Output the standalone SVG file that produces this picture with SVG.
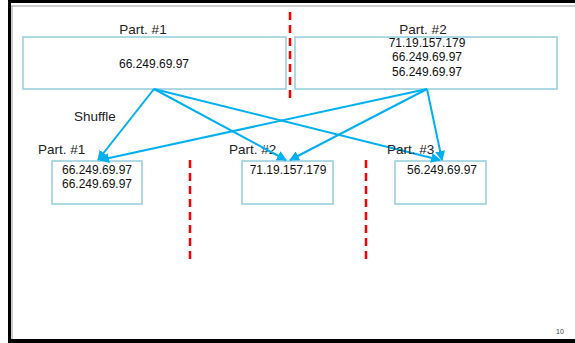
<svg xmlns="http://www.w3.org/2000/svg" width="575" height="343" viewBox="0 0 575 343">
<defs>
<style>
.box{fill:#fff;stroke:#92cddc;stroke-width:1.5}
.lbl{font-family:"Liberation Sans",Arial,sans-serif;font-size:13.5px;fill:#222}
.ip{font-family:"Liberation Sans",Arial,sans-serif;font-size:12px;fill:#111;text-anchor:middle}
.edge{stroke:#00b0f0;stroke-width:2;fill:none;marker-end:url(#ah)}
.sep{stroke:#ff0000;stroke-width:2.5;stroke-dasharray:8 5;fill:none}
</style>
<marker id="ah" viewBox="0 0 10 10" refX="9" refY="5" markerWidth="5" markerHeight="5" orient="auto" markerUnits="strokeWidth">
<path d="M0,0 L10,5 L0,10 z" fill="#00b0f0"/>
</marker>
</defs>
<rect x="0" y="0" width="575" height="343" fill="#fff"/>
<rect x="8" y="0" width="567" height="3" fill="#000"/>
<line x1="11" y1="6" x2="575" y2="6" stroke="#bbb" stroke-width="1.5"/>
<rect x="8" y="0" width="3" height="343" fill="#000"/>
<line x1="12" y1="6" x2="12" y2="340" stroke="#999" stroke-width="1"/>
<rect x="8" y="339" width="567" height="4" fill="#000"/>

<g id="separators">
<line class="sep" x1="290" y1="12" x2="290" y2="99"/>
<line class="sep" x1="190" y1="160" x2="190" y2="262"/>
<line class="sep" x1="366" y1="160" x2="366" y2="262"/>
</g>

<g id="top1">
<text class="lbl" x="143" y="34" text-anchor="middle">Part. #1</text>
<rect class="box" x="23" y="37" width="263" height="52"/>
<text class="ip" x="154" y="68">66.249.69.97</text>
</g>
<g id="top2">
<text class="lbl" x="423" y="34" text-anchor="middle">Part. #2</text>
<rect class="box" x="295" y="37" width="262" height="52"/>
<text class="ip" x="427" y="47">71.19.157.179</text>
<text class="ip" x="427" y="61">66.249.69.97</text>
<text class="ip" x="427" y="76">56.249.69.97</text>
</g>

<text class="lbl" x="74" y="121">Shuffle</text>

<g id="bot1">
<rect class="box" x="52" y="161" width="90" height="43"/>
<text class="lbl" x="38" y="154">Part. #1</text>
<text class="ip" x="97" y="174">66.249.69.97</text>
<text class="ip" x="97" y="188">66.249.69.97</text>
</g>
<g id="bot2">
<rect class="box" x="242" y="161" width="91" height="43"/>
<text class="lbl" x="229" y="154">Part. #2</text>
<text class="ip" x="288" y="174">71.19.157.179</text>
</g>
<g id="bot3">
<rect class="box" x="395" y="161" width="91" height="43"/>
<text class="ip" x="442" y="174">56.249.69.97</text>
</g>

<g id="connectors">
<line class="edge" x1="154" y1="89" x2="98" y2="160"/>
<line class="edge" x1="154" y1="89" x2="286" y2="160"/>
<line class="edge" x1="154" y1="89" x2="440" y2="160"/>
<line class="edge" x1="427" y1="89" x2="100" y2="160"/>
<line class="edge" x1="427" y1="89" x2="290" y2="160"/>
<line class="edge" x1="427" y1="89" x2="442" y2="160"/>
</g>
<text class="lbl" x="387" y="154">Part. #3</text>

<text x="556" y="334" font-family="Liberation Sans,Arial,sans-serif" font-size="7" fill="#444">10</text>
</svg>
